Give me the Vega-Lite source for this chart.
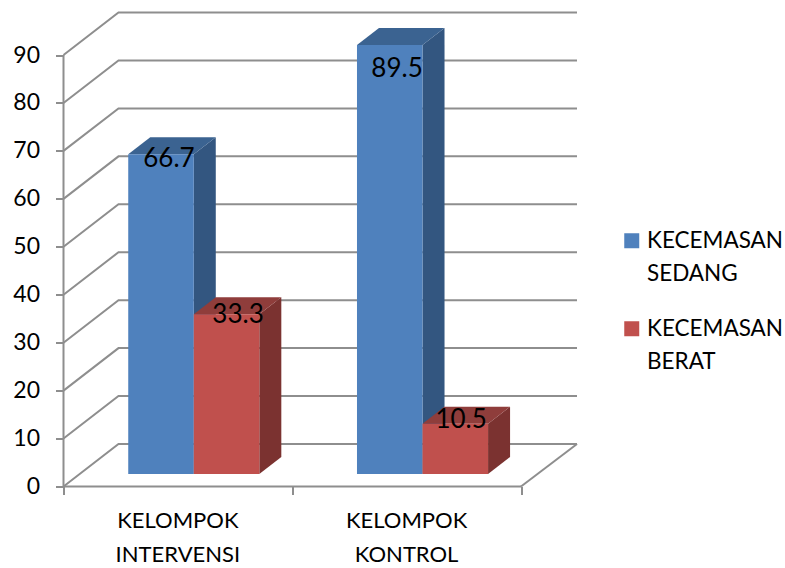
{
"$schema":"https://vega.github.io/schema/vega-lite/v6.json",
"width":513.5,"height":474,
"autosize":{"type":"none"},
"padding":{"left":63.5,"top":12.5,"right":208,"bottom":81.5},
"background":"white",
"config":{"view":{"stroke":null},"font":"Lato"},
"datasets":{
"bars":[
{"bar":"a","g":0,"s":0,"value":66.7,"series":"KECEMASAN SEDANG"},
{"bar":"b","g":0,"s":1,"value":33.3,"series":"KECEMASAN BERAT"},
{"bar":"c","g":1,"s":0,"value":89.5,"series":"KECEMASAN SEDANG"},
{"bar":"d","g":1,"s":1,"value":10.5,"series":"KECEMASAN BERAT"}],
"ticks":[{"v":0},{"v":10},{"v":20},{"v":30},{"v":40},{"v":50},{"v":60},{"v":70},{"v":80},{"v":90}],
"frame":[
{"line":"yaxis","t":0,"px":0,"py":0},{"line":"yaxis","t":1,"px":0,"py":90},
{"line":"xaxis","t":0,"px":0,"py":0},{"line":"xaxis","t":1,"px":2,"py":0},
{"line":"floor","t":0,"px":2,"py":0},{"line":"floor","t":1,"px":2.2448,"py":8.865}],
"barLabels":[
{"text":"66.7","px":0.461,"py":68.4},
{"text":"33.3","px":0.763,"py":35.8},
{"text":"89.5","px":1.458,"py":87.0},
{"text":"10.5","px":1.738,"py":13.9}],
"groups":[{"g":0,"name":"KELOMPOK\nINTERVENSI"},{"g":1,"name":"KELOMPOK\nKONTROL"}]
},
"encoding":{
"x":{"field":"px","type":"quantitative","title":null,"scale":{"domain":[0,2.2448],"nice":false,"zero":false},
 "axis":{"values":[0,1,2],"labels":false,"domain":false,"grid":false,"tickSize":8,"tickWidth":2,"tickColor":"#8E8E8E","title":null}},
"y":{"field":"py","type":"quantitative","title":null,"scale":{"domain":[0,98.87],"nice":false,"zero":false},
 "axis":{"values":[0,10,20,30,40,50,60,70,80,90],"domain":false,"grid":false,"tickSize":8,"tickWidth":2,"tickColor":"#8E8E8E","labelFont":"Lato","labelFontSize":23,"labelColor":"#000000","labelPadding":16,"title":null}}
},
"layer":[
{"data":{"name":"ticks"},
 "transform":[{"calculate":"[0,1,2]","as":"t"},{"flatten":["t"]},
  {"calculate":"datum.t==0?0:(datum.t==1?0.2404:2.2448)","as":"px"},
  {"calculate":"datum.v+(datum.t>0?8.865:0)","as":"py"}],
 "mark":{"type":"line","stroke":"#8E8E8E","strokeWidth":2},
 "encoding":{"detail":{"field":"v"},"order":{"field":"t"}}},
{"data":{"name":"frame"},
 "mark":{"type":"line","stroke":"#8E8E8E","strokeWidth":2},
 "encoding":{"detail":{"field":"line"},"order":{"field":"t"}}},
{"data":{"name":"bars"},
 "transform":[{"filter":"datum.s==0"},{"calculate":"[0,1]","as":"t"},{"flatten":["t"]},
  {"calculate":"0.283+datum.g+(datum.s+1)*0.2865+datum.t*0.0962","as":"px"},
  {"calculate":"2.607+datum.value+datum.t*3.546","as":"py"},
  {"calculate":"2.607+datum.t*3.546","as":"py2"}],
 "mark":{"type":"area","fill":"#335680"},
 "encoding":{"y2":{"field":"py2"},"detail":{"field":"bar"}}},
{"data":{"name":"bars"},
 "transform":[{"filter":"datum.s==1"},{"calculate":"[0,1]","as":"t"},{"flatten":["t"]},
  {"calculate":"0.283+datum.g+(datum.s+1)*0.2865+datum.t*0.0962","as":"px"},
  {"calculate":"2.607+datum.value+datum.t*3.546","as":"py"},
  {"calculate":"2.607+datum.t*3.546","as":"py2"}],
 "mark":{"type":"area","fill":"#7B3230"},
 "encoding":{"y2":{"field":"py2"},"detail":{"field":"bar"}}},
{"data":{"name":"bars"},
 "transform":[{"filter":"datum.s==0"},{"calculate":"[0,1]","as":"t"},{"flatten":["t"]},
  {"calculate":"0.283+datum.g+datum.s*0.2865+datum.t*0.0962","as":"px"},
  {"calculate":"0.283+datum.g+(datum.s+1)*0.2865+datum.t*0.0962","as":"px2"},
  {"calculate":"2.607+datum.value+datum.t*3.546","as":"py"}],
 "mark":{"type":"area","orient":"horizontal","fill":"#3B6391"},
 "encoding":{"x2":{"field":"px2"},"detail":{"field":"bar"}}},
{"data":{"name":"bars"},
 "transform":[{"filter":"datum.s==1"},{"calculate":"[0,1]","as":"t"},{"flatten":["t"]},
  {"calculate":"0.283+datum.g+datum.s*0.2865+datum.t*0.0962","as":"px"},
  {"calculate":"0.283+datum.g+(datum.s+1)*0.2865+datum.t*0.0962","as":"px2"},
  {"calculate":"2.607+datum.value+datum.t*3.546","as":"py"}],
 "mark":{"type":"area","orient":"horizontal","fill":"#8F3D3B"},
 "encoding":{"x2":{"field":"px2"},"detail":{"field":"bar"}}},
{"data":{"name":"bars"},
 "transform":[
  {"calculate":"0.283+datum.g+datum.s*0.2865","as":"px"},
  {"calculate":"datum.px+0.2865","as":"px2"},
  {"calculate":"2.607+datum.value","as":"py"},
  {"calculate":"2.607","as":"py2"}],
 "mark":{"type":"rect"},
 "encoding":{"x2":{"field":"px2"},"y2":{"field":"py2"},
  "color":{"field":"series","type":"nominal","title":null,
   "scale":{"domain":["KECEMASAN SEDANG","KECEMASAN BERAT"],"range":["#4F81BD","#C0504D"]},
   "legend":{"orient":"none","legendX":557,"legendY":217,"symbolType":"square","symbolSize":225,"symbolOpacity":1,"symbolStrokeWidth":0,
    "labelExpr":"split(datum.label,' ')","labelFont":"Lato","labelFontSize":22.5,"labelColor":"#000000","labelLimit":200,"labelOffset":4,"rowPadding":32,"labelBaseline":"middle",
    "encode":{"labels":{"update":{"lineHeight":{"value":33}}}}}}}},
{"data":{"name":"barLabels"},
 "mark":{"type":"text","font":"Lato","fontSize":26,"color":"#000000","baseline":"middle","align":"center"},
 "encoding":{"text":{"field":"text"}}},
{"data":{"name":"groups"},
 "transform":[{"calculate":"datum.g+0.5","as":"px"},{"calculate":"-7.2","as":"py"}],
 "mark":{"type":"text","font":"Lato","fontSize":22,"color":"#000000","baseline":"middle","align":"center","lineBreak":"\n","lineHeight":34},
 "encoding":{"text":{"field":"name"}}}
]
}
